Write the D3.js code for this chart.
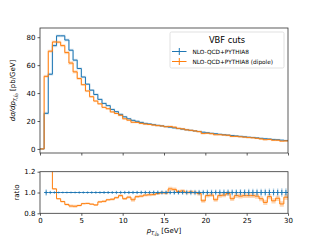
<!DOCTYPE html>
<html>
<head>
<meta charset="utf-8">
<style>
  body { margin: 0; background: #fff; }
  svg { font-family: "DejaVu Sans", sans-serif; }
</style>
</head>
<body>
<svg id="chart" width="320" height="240"></svg>
<script src="https://cdn.jsdelivr.net/npm/d3@7"></script>
<script>
  // bins of 0.5 GeV from 0 to 30
  var binWidth = 0.5;
  var nloPythia = [0, 25.5, 53.5, 74, 81, 81, 78, 70.7, 63.6, 57.6,
    51.5, 46.4, 42.1, 39, 35.5, 32.6, 31, 28.3, 26.7, 24.8,
    23, 21.6, 20.5, 19.8, 19.0, 18.3, 17.9, 17.4, 16.9, 16.5,
    16.0, 15.6, 15.1, 14.6, 14.2, 13.7, 13.3, 12.9, 12.5, 12.0,
    11.6, 11.2, 10.9, 10.5, 10.2, 9.9, 9.6, 9.3, 9.0, 8.7,
    8.4, 8.2, 7.9, 7.6, 7.3, 7.1, 6.8, 6.6, 6.3, 6.0];
  var nloDipole = [0, 52, 70, 76.6, 76.5, 74, 69, 61.5, 55.2, 50.4,
    46, 41.5, 37.4, 34.3, 32.3, 29.8, 28.8, 26.5, 25.4, 24.1,
    21.6, 20.6, 19.1, 19.0, 18.3, 17.8, 17.5, 17.1, 16.7, 16.45,
    15.9, 16.1, 15.6, 14.75, 14.4, 13.7, 13.35, 12.9, 12.4, 11.0,
    11.25, 10.9, 10.15, 10.2, 9.95, 9.8, 9.0, 9.0, 8.7, 8.45,
    8.15, 7.95, 7.6, 7.15, 6.6, 6.8, 6.25, 6.25, 5.6, 5.75];
  var ratioDipole = [null, 2.0, 1.31, 1.035, 0.94, 0.913, 0.885, 0.87, 0.868, 0.875,
    0.893, 0.895, 0.888, 0.88, 0.91, 0.915, 0.93, 0.935, 0.95, 0.97,
    0.94, 0.955, 0.93, 0.96, 0.965, 0.975, 0.978, 0.98, 0.99, 0.997,
    0.995, 1.035, 1.03, 1.01, 1.015, 1.0, 1.005, 1.0, 0.99, 0.92,
    0.97, 0.975, 0.93, 0.97, 0.975, 0.99, 0.94, 0.97, 0.965, 0.97,
    0.97, 0.97, 0.965, 0.94, 0.905, 0.96, 0.92, 0.945, 0.89, 0.955];
  // relative uncertainties
  var errPythia = [0, 0.02, 0.01, 0.008, 0.006, 0.006, 0.006, 0.006, 0.006, 0.007,
    0.007, 0.007, 0.008, 0.008, 0.008, 0.009, 0.009, 0.009, 0.01, 0.01,
    0.01, 0.011, 0.011, 0.011, 0.012, 0.012, 0.012, 0.013, 0.013, 0.013,
    0.014, 0.014, 0.015, 0.015, 0.015, 0.016, 0.016, 0.016, 0.017, 0.017,
    0.018, 0.018, 0.018, 0.019, 0.019, 0.02, 0.02, 0.02, 0.021, 0.021,
    0.022, 0.022, 0.022, 0.023, 0.023, 0.024, 0.024, 0.024, 0.025, 0.025];
  var errDipole = [0, 0.012, 0.01, 0.008, 0.008, 0.008, 0.01, 0.014, 0.014, 0.01,
    0.008, 0.008, 0.009, 0.009, 0.01, 0.01, 0.01, 0.011, 0.011, 0.012,
    0.012, 0.013, 0.02, 0.014, 0.013, 0.013, 0.014, 0.014, 0.014, 0.015,
    0.015, 0.02, 0.018, 0.016, 0.016, 0.017, 0.017, 0.017, 0.018, 0.018,
    0.019, 0.019, 0.02, 0.02, 0.02, 0.021, 0.021, 0.022, 0.022, 0.022,
    0.023, 0.023, 0.024, 0.024, 0.025, 0.025, 0.025, 0.026, 0.026, 0.027];
  var xTicks = [0, 5, 10, 15, 20, 25, 30];
  var yTicksTop = [0, 20, 40, 60, 80];
  var yTicksRatio = [0.8, 1.0, 1.2];
  var legendTitle = "VBF cuts";
  var seriesNames = ["NLO-QCD+PYTHIA8", "NLO-QCD+PYTHIA8 (dipole)"];

  var blue = "#1f77b4", orange = "#ff7f0e";
  var left = 40, right = 288;
  var topY0 = 28, topY1 = 153, ratY0 = 171.7, ratY1 = 213.3;
  var fs = 7;

  var svg = d3.select("#chart");

  var x = d3.scaleLinear().domain([0, 30]).range([left, right]);
  var yTop = d3.scaleLinear().domain([-2.9, 86.6]).range([topY1, topY0]);
  var yRat = d3.scaleLinear().domain([0.8, 1.2]).range([ratY1, ratY0]);

  function clip(id, y0, y1) {
    svg.append("clipPath").attr("id", id).append("rect")
      .attr("x", left).attr("y", y0).attr("width", right - left).attr("height", y1 - y0);
  }
  clip("cTop", topY0, topY1);
  clip("cRat", ratY0, ratY1);

  // turn bin values into step points (with a closing edge)
  function steps(vals, from) {
    var pts = [];
    for (var i = from; i < vals.length; i++) pts.push([i * binWidth, vals[i]]);
    pts.push([vals.length * binWidth, vals[vals.length - 1]]);
    return pts;
  }

  // ---- top panel ----
  var gTop = svg.append("g").attr("clip-path", "url(#cTop)");
  var lineTop = d3.line().curve(d3.curveStepAfter)
    .x(function (d) { return x(d[0]); }).y(function (d) { return yTop(d[1]); });
  var areaTop = d3.area().curve(d3.curveStepAfter)
    .x(function (d) { return x(d[0]); })
    .y0(function (d) { return yTop(d[1]); }).y1(function (d) { return yTop(d[2]); });

  function band(vals, errs, from) {
    var pts = [];
    for (var i = from; i < vals.length; i++) pts.push([i * binWidth, vals[i] * (1 - errs[i]), vals[i] * (1 + errs[i])]);
    var l = vals.length - 1;
    pts.push([vals.length * binWidth, vals[l] * (1 - errs[l]), vals[l] * (1 + errs[l])]);
    return pts;
  }

  gTop.append("path").attr("d", areaTop(band(nloPythia, errPythia, 0)))
    .attr("fill", blue).attr("opacity", 0.3).attr("stroke", blue).attr("stroke-opacity", 0.5).attr("stroke-width", 1.5);
  gTop.append("path").attr("d", lineTop(steps(nloPythia, 0)))
    .attr("fill", "none").attr("stroke", blue).attr("stroke-width", 1);
  gTop.append("path").attr("d", areaTop(band(nloDipole, errDipole, 0)))
    .attr("fill", orange).attr("opacity", 0.3).attr("stroke", orange).attr("stroke-opacity", 0.5).attr("stroke-width", 1.5);
  gTop.append("path").attr("d", lineTop(steps(nloDipole, 0)))
    .attr("fill", "none").attr("stroke", orange).attr("stroke-width", 1);

  // ---- ratio panel ----
  var gRat = svg.append("g").attr("clip-path", "url(#cRat)");
  var lineRat = d3.line().curve(d3.curveStepAfter)
    .x(function (d) { return x(d[0]); }).y(function (d) { return yRat(d[1]); });
  var areaRat = d3.area().curve(d3.curveStepAfter)
    .x(function (d) { return x(d[0]); })
    .y0(function (d) { return yRat(d[1]); }).y1(function (d) { return yRat(d[2]); });

  var bandRat = [];
  for (var i = 1; i < ratioDipole.length; i++)
    bandRat.push([i * binWidth, ratioDipole[i] - errDipole[i], ratioDipole[i] + errDipole[i]]);
  var lastI = ratioDipole.length - 1;
  bandRat.push([30, ratioDipole[lastI] - errDipole[lastI], ratioDipole[lastI] + errDipole[lastI]]);
  gRat.append("path").attr("d", areaRat(bandRat))
    .attr("fill", orange).attr("opacity", 0.3);
  gRat.append("path").attr("d", lineRat(steps(ratioDipole, 1)))
    .attr("fill", "none").attr("stroke", orange).attr("stroke-width", 1);

  // reference errorbars at 1
  var refBins = d3.range(1, nloPythia.length);
  gRat.selectAll("line.h").data(refBins).enter().append("line")
    .attr("x1", function (i) { return x(i * binWidth); })
    .attr("x2", function (i) { return x((i + 1) * binWidth); })
    .attr("y1", yRat(1)).attr("y2", yRat(1))
    .attr("stroke", blue).attr("stroke-width", 1);
  gRat.selectAll("line.vl").data(refBins).enter().append("line")
    .attr("x1", function (i) { return x((i + 0.5) * binWidth); })
    .attr("x2", function (i) { return x((i + 0.5) * binWidth); })
    .attr("y1", function (i) { return yRat(1 - 1.6 * errPythia[i]); })
    .attr("y2", function (i) { return yRat(1 + 1.6 * errPythia[i]); })
    .attr("stroke", blue).attr("stroke-opacity", 0.35).attr("stroke-width", 1.3);
  gRat.selectAll("line.v").data(refBins).enter().append("line")
    .attr("x1", function (i) { return x((i + 0.5) * binWidth); })
    .attr("x2", function (i) { return x((i + 0.5) * binWidth); })
    .attr("y1", function (i) { return yRat(1 - errPythia[i]); })
    .attr("y2", function (i) { return yRat(1 + errPythia[i]); })
    .attr("stroke", blue).attr("stroke-width", 0.9);

  // ---- axes ----
  function frame(y0, y1) {
    svg.append("rect").attr("x", left).attr("y", y0).attr("width", right - left).attr("height", y1 - y0)
      .attr("fill", "none").attr("stroke", "#333").attr("stroke-width", 0.8);
  }
  frame(topY0, topY1);
  frame(ratY0, ratY1);

  function styleAxis(g, labels) {
    g.select(".domain").remove();
    g.selectAll(".tick line").attr("stroke", "#333").attr("stroke-width", 0.8);
    g.selectAll(".tick text").attr("font-size", fs).attr("fill", "#000")
      .attr("font-family", "DejaVu Sans");
    if (!labels) g.selectAll(".tick text").remove();
  }

  svg.append("g").attr("transform", "translate(0," + topY1 + ")")
    .call(d3.axisBottom(x).tickValues(xTicks).tickSize(2.5))
    .call(styleAxis, false);
  svg.append("g").attr("transform", "translate(0," + ratY1 + ")")
    .call(d3.axisBottom(x).tickValues(xTicks).tickSize(2.5).tickPadding(2))
    .call(styleAxis, true);
  svg.append("g").attr("transform", "translate(" + left + ",0)")
    .call(d3.axisLeft(yTop).tickValues(yTicksTop).tickSize(2.5).tickPadding(2))
    .call(styleAxis, true);
  svg.append("g").attr("transform", "translate(" + left + ",0)")
    .call(d3.axisLeft(yRat).tickValues(yTicksRatio).tickSize(2.5).tickPadding(2).tickFormat(d3.format(".1f")))
    .call(styleAxis, true);

  // ---- labels ----
  var yl = svg.append("text").attr("transform", "translate(15," + ((topY0 + topY1) / 2) + ") rotate(-90)")
    .attr("text-anchor", "middle").attr("font-size", fs);
  yl.append("tspan").attr("font-style", "italic").text("dσ/dp");
  yl.append("tspan").attr("font-style", "italic").attr("font-size", 5).attr("dy", 1.5).text("T,j");
  yl.append("tspan").attr("font-style", "italic").attr("font-size", 4).attr("dy", 1).text("b");
  yl.append("tspan").attr("dy", -2.5).text(" [pb/GeV]");

  svg.append("text").attr("transform", "translate(19," + ((ratY0 + ratY1) / 2) + ") rotate(-90)")
    .attr("text-anchor", "middle").attr("font-size", fs).text("ratio");

  var xl = svg.append("text").attr("x", (left + right) / 2).attr("y", 233)
    .attr("text-anchor", "middle").attr("font-size", fs);
  xl.append("tspan").attr("font-style", "italic").text("p");
  xl.append("tspan").attr("font-style", "italic").attr("font-size", 5).attr("dy", 1.5).text("T,j");
  xl.append("tspan").attr("font-style", "italic").attr("font-size", 4).attr("dy", 1).text("b");
  xl.append("tspan").attr("dy", -2.5).text(" [GeV]");

  // ---- legend ----
  var lg = svg.append("g");
  lg.append("rect").attr("x", 170).attr("y", 32).attr("width", 114).attr("height", 36)
    .attr("rx", 1.5).attr("fill", "#fff").attr("fill-opacity", 0.8)
    .attr("stroke", "#d9d9d9").attr("stroke-width", 0.8);
  lg.append("text").attr("x", 227).attr("y", 42.5).attr("text-anchor", "middle")
    .attr("font-size", 8.3).text(legendTitle);
  [blue, orange].forEach(function (c, k) {
    var yy = 51.5 + k * 10;
    lg.append("line").attr("x1", 172).attr("x2", 186.5).attr("y1", yy).attr("y2", yy)
      .attr("stroke", c).attr("stroke-width", 1);
    lg.append("line").attr("x1", 179.3).attr("x2", 179.3).attr("y1", yy - 3.5).attr("y2", yy + 3.5)
      .attr("stroke", c).attr("stroke-width", 1);
    lg.append("text").attr("x", 192.5).attr("y", yy + 2.2).attr("font-size", 5.8)
      .text(seriesNames[k]);
  });
</script>
</body>
</html>
